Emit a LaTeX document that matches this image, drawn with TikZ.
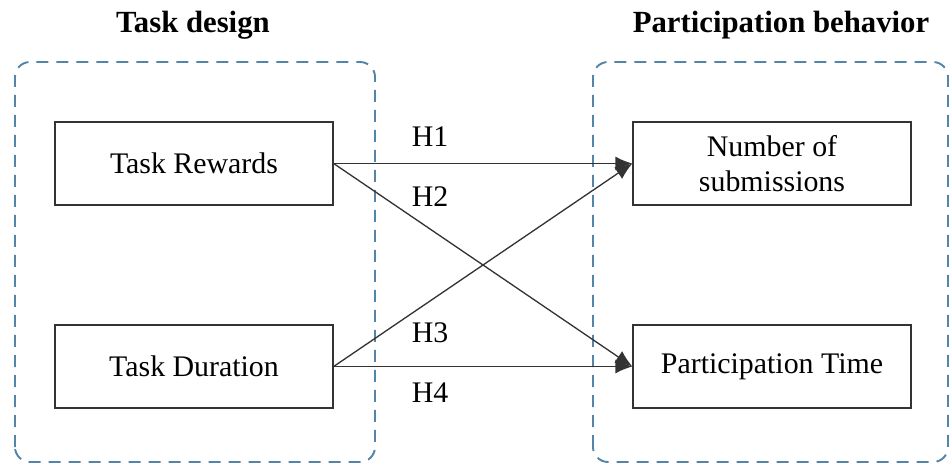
\documentclass[tikz,border=0pt]{standalone}
\usepackage{fontspec}
\setmainfont{Liberation Serif}
\usetikzlibrary{positioning}
\usetikzlibrary{arrows.meta}
\definecolor{dashblue}{RGB}{84,132,168}
\begin{document}
\begin{tikzpicture}[-{Latex[length=3.4mm,width=2.8mm]}, line width=0.75pt, color=black!80, text=black,
box/.style ={rectangle, draw, minimum width=5.56cm, minimum height=1.66cm, align=center, font=\fontsize{17}{20}\selectfont},
group/.style ={draw=dashblue, line width=1.1pt, dash pattern=on 0.24cm off 0.16cm, rounded corners=0.3cm},
hyp/.style ={font=\fontsize{17}{20}\selectfont},
title/.style ={font=\fontsize{17.5}{20}\selectfont\bfseries}]
\useasboundingbox (0,0) rectangle (19,9.32);
\draw[-, group] (0.30,0.08) rectangle (7.50,8.08);
\draw[-, group] (11.86,0.08) rectangle (18.96,8.08);
\node[title] (G1) at (3.86,8.82) {Task design};
\node[title] (G2) at (15.62,8.82) {Participation behavior};
\node[box] (T1) at (3.88,6.05) {Task Rewards};
\node[box] (T2) at (3.88,1.99) {Task Duration};
\node[box] (P1) at (15.44,6.05) {Number of\\submissions};
\node[box] (P2) at (15.44,1.99) {Participation Time};
\draw (T1.east) -- (P1.west);
\draw (T1.east) -- (P2.west);
\draw (T2.east) -- (P1.west);
\draw (T2.east) -- (P2.west);
\node[hyp] (H1) at (8.60,6.58) {H1};
\node[hyp] (H2) at (8.60,5.38) {H2};
\node[hyp] (H3) at (8.60,2.66) {H3};
\node[hyp] (H4) at (8.60,1.46) {H4};
\end{tikzpicture}
\end{document}
